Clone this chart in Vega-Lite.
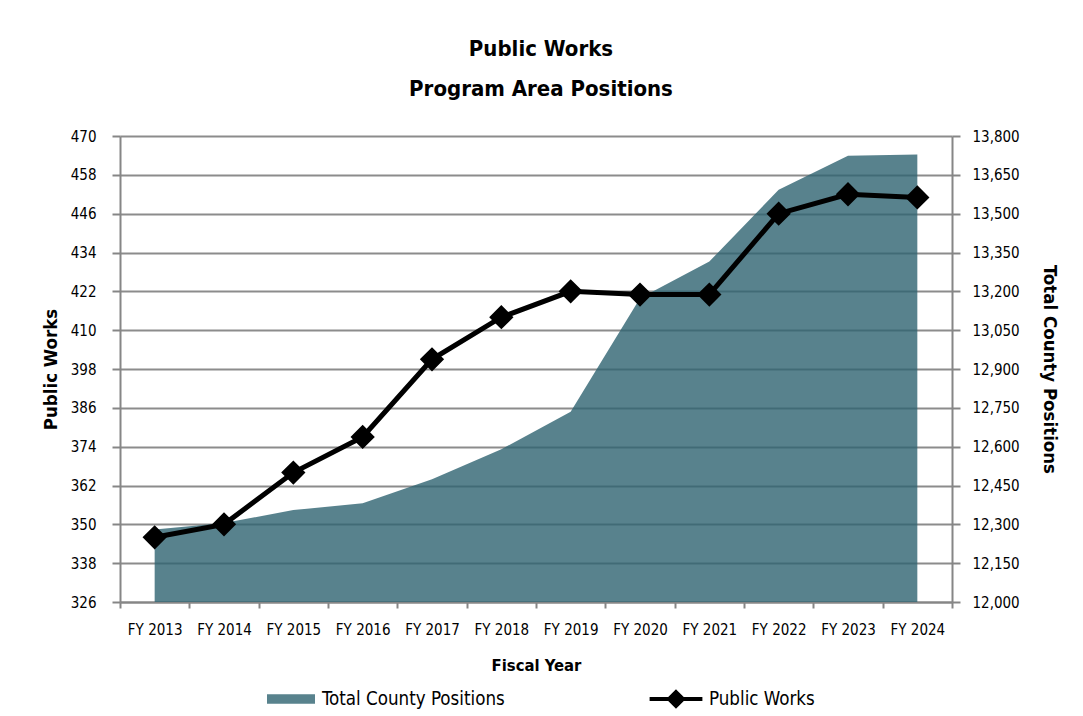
{
  "$schema": "https://vega.github.io/schema/vega-lite/v6.json",
  "autosize": {"type": "none"},
  "width": 832,
  "height": 466,
  "padding": {"left": 120, "top": 136, "right": 131, "bottom": 114},
  "background": "white",
  "title": {
    "text": ["Public Works", "Program Area Positions"],
    "fontSize": 22,
    "fontWeight": "bold",
    "font": "DejaVu Sans Condensed",
    "color": "black",
    "anchor": "middle",
    "offset": 28,
    "lineHeight": 40,
    "dx": 5
  },
  "config": {
    "view": {"stroke": null},
    "font": "DejaVu Sans Condensed",
    "axis": {
      "labelFont": "DejaVu Sans Condensed",
      "titleFont": "DejaVu Sans Condensed",
      "labelFontSize": 15,
      "labelColor": "black",
      "titleFontSize": 18.5,
      "titleFontWeight": "bold",
      "titleColor": "black",
      "domainColor": "#868686",
      "domainWidth": 2,
      "tickColor": "#868686",
      "tickWidth": 2,
      "gridColor": "#8c8c8c",
      "gridWidth": 2,
      "gridOpacity": 1
    },
    "legend": {
      "orient": "none",
      "direction": "horizontal",
      "title": null,
      "labelFont": "DejaVu Sans Condensed",
      "labelFontSize": 18.6,
      "labelColor": "black",
      "labelLimit": 400,
      "labelOffset": 7,
      "symbolSize": 2304,
      "padding": 0
    }
  },
  "data": {
    "values": [
      {"FY": "FY 2013", "PW": 346, "Total": 12280},
      {"FY": "FY 2014", "PW": 350, "Total": 12305},
      {"FY": "FY 2015", "PW": 366, "Total": 12355},
      {"FY": "FY 2016", "PW": 377, "Total": 12381},
      {"FY": "FY 2017", "PW": 401, "Total": 12474},
      {"FY": "FY 2018", "PW": 414, "Total": 12590},
      {"FY": "FY 2019", "PW": 422, "Total": 12735},
      {"FY": "FY 2020", "PW": 421, "Total": 13173},
      {"FY": "FY 2021", "PW": 421, "Total": 13315},
      {"FY": "FY 2022", "PW": 446, "Total": 13592},
      {"FY": "FY 2023", "PW": 452, "Total": 13724},
      {"FY": "FY 2024", "PW": 451, "Total": 13729}
    ]
  },
  "encoding": {
    "x": {
      "field": "FY",
      "type": "ordinal",
      "sort": null,
      "scale": {"type": "band", "paddingInner": 0, "paddingOuter": 0},
      "axis": {
        "title": "Fiscal Year",
        "titleFontSize": 16.5,
        "labelAngle": 0,
        "tickBand": "extent",
        "tickSize": 6,
        "labelPadding": 14,
        "titlePadding": 20,
        "grid": false
      }
    }
  },
  "layer": [
    {
      "mark": {"type": "area", "opacity": 0.8},
      "encoding": {
        "y": {
          "field": "Total",
          "type": "quantitative",
          "scale": {"domain": [12000, 13800], "zero": false, "nice": false},
          "axis": {
            "orient": "right",
            "title": "Total County Positions",
            "values": [12000, 12150, 12300, 12450, 12600, 12750, 12900, 13050, 13200, 13350, 13500, 13650, 13800],
            "format": ",.0f",
            "grid": false,
            "tickSize": 8,
            "labelPadding": 12,
            "titlePadding": 20
          }
        },
        "y2": {"datum": 12000},
        "fill": {
          "datum": "Total County Positions",
          "scale": {"range": ["#2e6370"]},
          "legend": {
            "legendX": 147,
            "legendY": 539,
            "symbolType": "M-1,-0.2H1V0.2H-1Z",
            "symbolSize": 2304,
            "symbolStrokeWidth": 0
          }
        }
      }
    },
    {
      "mark": {
        "type": "line",
        "strokeWidth": 5,
        "point": {"shape": "diamond", "size": 460, "filled": true, "fill": "black", "opacity": 1}
      },
      "encoding": {
        "y": {
          "field": "PW",
          "type": "quantitative",
          "scale": {"domain": [326, 470], "zero": false, "nice": false},
          "axis": {
            "orient": "left",
            "title": "Public Works",
            "values": [326, 338, 350, 362, 374, 386, 398, 410, 422, 434, 446, 458, 470],
            "grid": true,
            "tickSize": 8,
            "labelPadding": 16,
            "titlePadding": 10
          }
        },
        "stroke": {
          "datum": "Public Works",
          "scale": {"range": ["black"]},
          "legend": {
            "legendX": 530,
            "legendY": 537,
            "symbolType": "M-1.1,0H1.1M0,-0.29L0.29,0L0,0.29L-0.29,0Z M0,-0.15L0.15,0L0,0.15L-0.15,0Z",
            "symbolSize": 2304,
            "symbolStrokeWidth": 4,
            "symbolFillColor": "black",
            "symbolStrokeColor": "black"
          }
        }
      }
    }
  ],
  "resolve": {"scale": {"y": "independent"}, "axis": {"y": "independent"}}
}
